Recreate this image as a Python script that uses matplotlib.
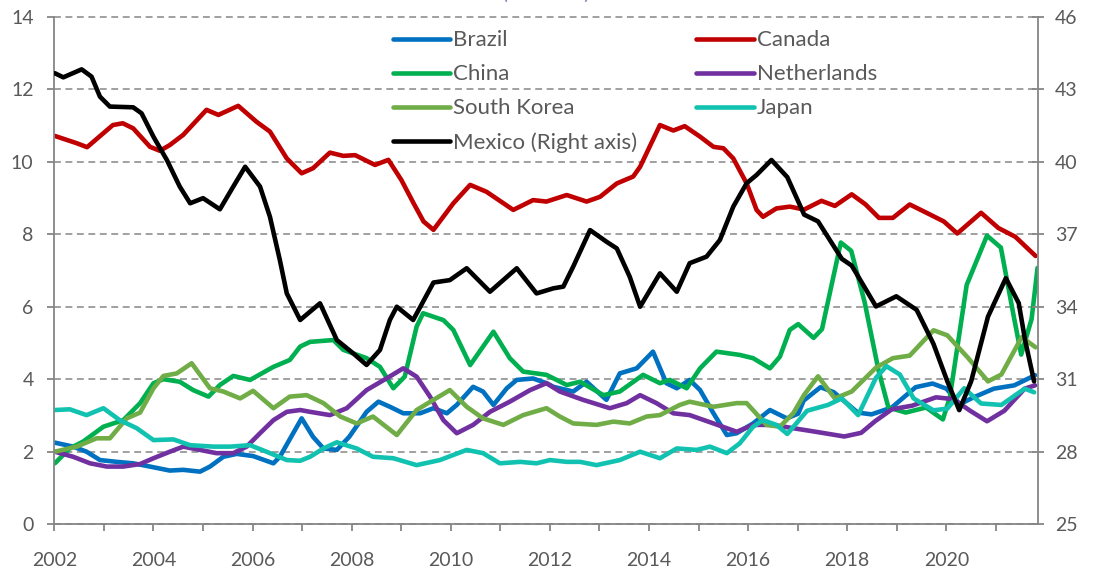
import matplotlib
matplotlib.use("Agg")
import matplotlib.pyplot as plt

plt.rcParams['font.family'] = ['Lato', 'DejaVu Sans']

# Shares by country, left axis (Mexico on the right axis)
brazil_t = [2002.01, 2002.38, 2002.65, 2002.92, 2003.26, 2003.59, 2003.93, 2004.33, 2004.60, 2004.94,
            2005.14, 2005.41, 2005.68, 2006.01, 2006.42, 2006.55, 2006.74, 2006.99, 2007.22, 2007.43,
            2007.70, 2007.95, 2008.30, 2008.54, 2008.77, 2009.04, 2009.38, 2009.65, 2009.92, 2010.12,
            2010.45, 2010.65, 2010.86, 2011.13, 2011.33, 2011.66, 2011.93, 2012.07, 2012.47, 2012.74,
            2013.14, 2013.41, 2013.75, 2014.08, 2014.35, 2014.56, 2014.82, 2015.03, 2015.30, 2015.57,
            2015.77, 2016.10, 2016.44, 2016.78, 2017.01, 2017.12, 2017.46, 2017.73, 2018.21, 2018.49,
            2018.90, 2019.38, 2019.72, 2020.00, 2020.27, 2020.55, 2020.96, 2021.37, 2021.79]
brazil_v = [2.25, 2.14, 2.00, 1.77, 1.72, 1.68, 1.59, 1.48, 1.50, 1.45,
            1.59, 1.86, 1.94, 1.88, 1.68, 1.86, 2.32, 2.92, 2.41, 2.09,
            2.05, 2.41, 3.10, 3.38, 3.24, 3.06, 3.06, 3.20, 3.06, 3.29,
            3.79, 3.66, 3.29, 3.75, 3.98, 4.02, 3.89, 3.79, 3.66, 3.93,
            3.43, 4.16, 4.30, 4.76, 3.89, 3.75, 3.98, 3.70, 3.06, 2.46,
            2.51, 2.78, 3.15, 2.92, 3.05, 3.41, 3.78, 3.64, 3.08, 3.03,
            3.22, 3.78, 3.88, 3.74, 3.31, 3.50, 3.74, 3.83, 4.11]

canada_t = [2002.01, 2002.45, 2002.66, 2003.18, 2003.38, 2003.59, 2003.93, 2004.13, 2004.33, 2004.60,
            2005.07, 2005.31, 2005.71, 2006.08, 2006.35, 2006.69, 2006.99, 2007.22, 2007.56, 2007.83,
            2008.07, 2008.47, 2008.74, 2009.00, 2009.25, 2009.45, 2009.65, 2010.05, 2010.39, 2010.72,
            2011.26, 2011.66, 2011.93, 2012.34, 2012.74, 2013.01, 2013.35, 2013.68, 2013.82, 2014.22,
            2014.49, 2014.72, 2015.03, 2015.30, 2015.50, 2015.70, 2015.97, 2016.17, 2016.30, 2016.57,
            2016.84, 2017.13, 2017.48, 2017.75, 2018.09, 2018.37, 2018.64, 2018.92, 2019.26, 2019.60,
            2019.95, 2020.22, 2020.70, 2021.05, 2021.39, 2021.80]
canada_v = [10.71, 10.51, 10.40, 11.01, 11.06, 10.92, 10.41, 10.30, 10.46, 10.74,
            11.43, 11.29, 11.54, 11.10, 10.83, 10.09, 9.68, 9.82, 10.25, 10.16,
            10.18, 9.91, 10.05, 9.50, 8.85, 8.35, 8.12, 8.85, 9.36, 9.17,
            8.67, 8.94, 8.90, 9.08, 8.90, 9.03, 9.40, 9.59, 9.86, 11.01,
            10.86, 10.98, 10.69, 10.41, 10.37, 10.09, 9.40, 8.67, 8.48, 8.71,
            8.76, 8.68, 8.92, 8.78, 9.10, 8.82, 8.45, 8.45, 8.82, 8.59,
            8.35, 8.02, 8.59, 8.17, 7.93, 7.40]

china_t = [2002.01, 2002.31, 2002.58, 2002.99, 2003.39, 2003.73, 2004.00, 2004.20, 2004.53, 2004.80,
           2005.11, 2005.34, 2005.61, 2005.95, 2006.42, 2006.75, 2006.96, 2007.16, 2007.63, 2007.83,
           2008.30, 2008.57, 2008.84, 2009.07, 2009.31, 2009.44, 2009.85, 2010.05, 2010.39, 2010.86,
           2011.19, 2011.46, 2011.93, 2012.34, 2012.61, 2013.08, 2013.41, 2013.88, 2014.22, 2014.42,
           2014.76, 2015.03, 2015.36, 2015.83, 2016.10, 2016.44, 2016.64, 2016.84, 2017.01, 2017.32,
           2017.49, 2017.87, 2018.08, 2018.35, 2018.63, 2018.83, 2019.18, 2019.59, 2019.93, 2020.07,
           2020.41, 2020.82, 2021.10, 2021.37, 2021.51, 2021.72, 2021.84]
china_v = [1.68, 2.09, 2.28, 2.69, 2.87, 3.34, 3.89, 4.00, 3.93, 3.70,
           3.52, 3.84, 4.09, 3.98, 4.34, 4.53, 4.90, 5.03, 5.08, 4.81,
           4.58, 4.34, 3.75, 4.07, 5.45, 5.82, 5.63, 5.36, 4.39, 5.31,
           4.58, 4.21, 4.12, 3.84, 3.93, 3.56, 3.66, 4.12, 3.89, 3.98,
           3.75, 4.30, 4.76, 4.67, 4.58, 4.30, 4.62, 5.36, 5.52, 5.14,
           5.38, 7.77, 7.54, 6.13, 4.25, 3.22, 3.08, 3.22, 2.89, 3.50,
           6.60, 7.96, 7.63, 5.66, 4.68, 5.66, 7.07]

neth_t = [2002.01, 2002.38, 2002.72, 2003.06, 2003.39, 2003.73, 2004.00, 2004.33, 2004.60, 2004.94,
          2005.27, 2005.61, 2005.88, 2006.15, 2006.42, 2006.69, 2006.96, 2007.16, 2007.56, 2007.90,
          2008.30, 2008.70, 2009.04, 2009.31, 2009.58, 2009.85, 2010.12, 2010.45, 2010.79, 2011.19,
          2011.60, 2011.93, 2012.20, 2012.67, 2013.21, 2013.55, 2013.82, 2014.15, 2014.49, 2014.82,
          2015.30, 2015.77, 2016.10, 2016.51, 2016.90, 2017.32, 2017.94, 2018.28, 2018.56, 2018.90,
          2019.31, 2019.79, 2020.14, 2020.48, 2020.82, 2021.17, 2021.58, 2021.79]
neth_v = [2.00, 1.86, 1.68, 1.59, 1.59, 1.66, 1.82, 2.00, 2.14, 2.05,
          1.96, 1.96, 2.14, 2.51, 2.87, 3.10, 3.15, 3.10, 3.01, 3.20,
          3.70, 4.02, 4.30, 4.07, 3.52, 2.87, 2.51, 2.74, 3.10, 3.38,
          3.70, 3.89, 3.66, 3.43, 3.20, 3.34, 3.56, 3.34, 3.06, 3.01,
          2.78, 2.55, 2.74, 2.74, 2.65, 2.56, 2.42, 2.52, 2.84, 3.17,
          3.27, 3.50, 3.45, 3.13, 2.84, 3.13, 3.74, 3.83]

korea_t = [2002.01, 2002.45, 2002.85, 2003.12, 2003.46, 2003.73, 2004.00, 2004.20, 2004.47, 2004.77,
           2005.14, 2005.41, 2005.75, 2006.01, 2006.42, 2006.75, 2007.09, 2007.43, 2007.77, 2008.10,
           2008.43, 2008.91, 2009.31, 2009.65, 2009.98, 2010.32, 2010.65, 2011.06, 2011.46, 2011.93,
           2012.20, 2012.47, 2012.94, 2013.28, 2013.61, 2013.95, 2014.22, 2014.62, 2014.82, 2015.30,
           2015.77, 2015.97, 2016.37, 2016.64, 2016.91, 2017.13, 2017.41, 2017.75, 2018.09, 2018.58,
           2018.92, 2019.26, 2019.74, 2020.02, 2020.43, 2020.84, 2021.11, 2021.52, 2021.80]
korea_v = [2.00, 2.14, 2.37, 2.37, 2.92, 3.08, 3.75, 4.09, 4.16, 4.44,
           3.75, 3.66, 3.47, 3.68, 3.20, 3.52, 3.56, 3.34, 2.97, 2.78,
           2.97, 2.46, 3.15, 3.43, 3.70, 3.24, 2.92, 2.74, 3.01, 3.20,
           2.97, 2.78, 2.74, 2.83, 2.78, 2.97, 3.01, 3.29, 3.38, 3.24,
           3.34, 3.34, 2.74, 2.69, 3.06, 3.57, 4.08, 3.47, 3.66, 4.32,
           4.58, 4.65, 5.35, 5.21, 4.60, 3.94, 4.13, 5.16, 4.88]

japan_t = [2002.01, 2002.31, 2002.65, 2002.99, 2003.32, 2003.66, 2004.00, 2004.40, 2004.74, 2005.21,
           2005.54, 2005.95, 2006.28, 2006.69, 2006.96, 2007.16, 2007.43, 2007.70, 2008.10, 2008.43,
           2008.84, 2009.31, 2009.78, 2010.32, 2010.65, 2010.99, 2011.40, 2011.73, 2012.00, 2012.34,
           2012.61, 2012.94, 2013.41, 2013.82, 2014.22, 2014.56, 2014.96, 2015.23, 2015.57, 2015.83,
           2016.10, 2016.30, 2016.57, 2016.79, 2017.19, 2017.61, 2017.89, 2018.22, 2018.58, 2018.79,
           2019.06, 2019.34, 2019.74, 2020.02, 2020.36, 2020.70, 2021.11, 2021.58, 2021.77]
japan_v = [3.15, 3.17, 3.01, 3.20, 2.87, 2.65, 2.32, 2.34, 2.18, 2.14,
           2.14, 2.18, 2.00, 1.77, 1.75, 1.86, 2.09, 2.26, 2.09, 1.86,
           1.82, 1.63, 1.77, 2.05, 1.96, 1.68, 1.72, 1.68, 1.77, 1.72,
           1.72, 1.63, 1.77, 2.00, 1.82, 2.09, 2.05, 2.14, 1.96, 2.23,
           2.69, 2.87, 2.74, 2.49, 3.13, 3.29, 3.47, 3.01, 4.04, 4.36,
           4.13, 3.47, 3.14, 3.19, 3.75, 3.33, 3.29, 3.74, 3.64]

mexico_t = [2002.01, 2002.18, 2002.55, 2002.75, 2002.92, 2003.12, 2003.59, 2003.76, 2004.00, 2004.27,
            2004.53, 2004.74, 2005.00, 2005.34, 2005.61, 2005.85, 2006.15, 2006.35, 2006.55, 2006.69,
            2006.96, 2007.36, 2007.70, 2008.03, 2008.30, 2008.57, 2008.77, 2008.91, 2009.24, 2009.65,
            2009.98, 2010.32, 2010.79, 2011.33, 2011.73, 2012.07, 2012.27, 2012.47, 2012.81, 2013.14,
            2013.35, 2013.61, 2013.82, 2014.02, 2014.22, 2014.56, 2014.82, 2015.16, 2015.43, 2015.70,
            2015.97, 2016.17, 2016.47, 2016.79, 2017.13, 2017.41, 2017.89, 2018.09, 2018.58, 2018.99,
            2019.40, 2019.74, 2020.02, 2020.26, 2020.50, 2020.84, 2021.20, 2021.46, 2021.59, 2021.77]
mexico_v = [43.66, 43.49, 43.82, 43.52, 42.69, 42.28, 42.25, 42.00, 41.03, 40.07,
            38.97, 38.28, 38.49, 38.03, 38.97, 39.79, 38.97, 37.72, 35.93, 34.55,
            33.45, 34.14, 32.62, 32.07, 31.59, 32.21, 33.45, 34.00, 33.45, 35.00,
            35.10, 35.59, 34.62, 35.59, 34.55, 34.76, 34.83, 35.66, 37.17, 36.69,
            36.41, 35.24, 34.00, 34.69, 35.38, 34.62, 35.80, 36.07, 36.76, 38.14,
            39.11, 39.45, 40.07, 39.36, 37.81, 37.53, 35.98, 35.70, 34.01, 34.43,
            33.87, 32.46, 30.91, 29.72, 30.91, 33.59, 35.18, 34.15, 32.60, 30.91]

left_ticks = [0, 2, 4, 6, 8, 10, 12, 14]
right_ticks = [25, 28, 31, 34, 37, 40, 43, 46]
year_ticks = list(range(2002, 2022))
year_labels = [str(y) if y % 2 == 0 else '' for y in year_ticks]

TXT = '#595959'
AXC = '#868686'
LW = 3.3


def main():
    fig = plt.figure(figsize=(10.94, 5.69), dpi=100)
    ax = fig.add_axes([0.0497, 0.0787, 0.8987, 0.892])
    ax2 = ax.twinx()

    style = dict(lw=LW, solid_joinstyle='round', solid_capstyle='round')
    series = [
        ('Brazil', brazil_t, brazil_v, '#0070C0'),
        ('Canada', canada_t, canada_v, '#C00000'),
        ('China', china_t, china_v, '#00B050'),
        ('Netherlands', neth_t, neth_v, '#7030A0'),
        ('South Korea', korea_t, korea_v, '#70AD47'),
        ('Japan', japan_t, japan_v, '#12C2B0'),
    ]
    lines = {}
    for name, t, v, c in series:
        lines[name], = ax.plot(t, v, color=c, label=name, **style)
    lines['Mexico'], = ax2.plot(mexico_t, mexico_v, color='black',
                                label='Mexico (Right axis)', **style)

    ax.set_xlim(2002, 2021.84)
    ax.set_ylim(0, 14)
    ax2.set_ylim(25, 46)

    ax.set_yticks(left_ticks)
    ax2.set_yticks(right_ticks)
    ax.set_xticks(year_ticks)
    ax.set_xticklabels(year_labels)

    # dashed horizontal grid
    ax.yaxis.grid(True, color=AXC, lw=1.1, linestyle=(0, (4.5, 3)))
    ax.set_axisbelow(True)
    for gl in ax.get_ygridlines():
        gl.set_clip_on(False)

    for a in (ax, ax2):
        a.spines['top'].set_visible(False)
        for s in ('left', 'right', 'bottom'):
            a.spines[s].set_color(AXC)
            a.spines[s].set_linewidth(1.3)
    ax.spines['right'].set_visible(False)
    ax2.spines['left'].set_visible(False)
    ax2.spines['bottom'].set_visible(False)

    ax.tick_params(axis='y', direction='out', length=5, width=1.3, color=AXC,
                   labelsize=14, labelcolor=TXT, pad=10)
    ax.tick_params(axis='x', direction='out', length=5, width=1.3, color=AXC,
                   labelsize=14, labelcolor=TXT, pad=15)
    ax2.tick_params(axis='y', direction='inout', length=9, width=1.3, color=AXC,
                    labelsize=14, labelcolor=TXT, pad=8)

    # legend laid out row by row in two columns
    order = ['Brazil', 'China', 'South Korea', 'Mexico', 'Canada', 'Netherlands', 'Japan']
    hs = [lines[k] for k in order]
    fig.legend(hs, [h.get_label() for h in hs], ncol=2, loc='upper left',
               bbox_to_anchor=(393 / 1094, 0.9466), frameon=False, fontsize=16,
               labelcolor=TXT, handlelength=2.57, handletextpad=0.15,
               labelspacing=0.63, columnspacing=2.65, borderpad=0, borderaxespad=0)

    fig.text(0.499, 1.0025, '(Percent)', ha='center', va='baseline',
             fontsize=16, color='#7F86B8')

    fig.savefig('out.png', dpi=100)


if __name__ == "__main__":
    main()
